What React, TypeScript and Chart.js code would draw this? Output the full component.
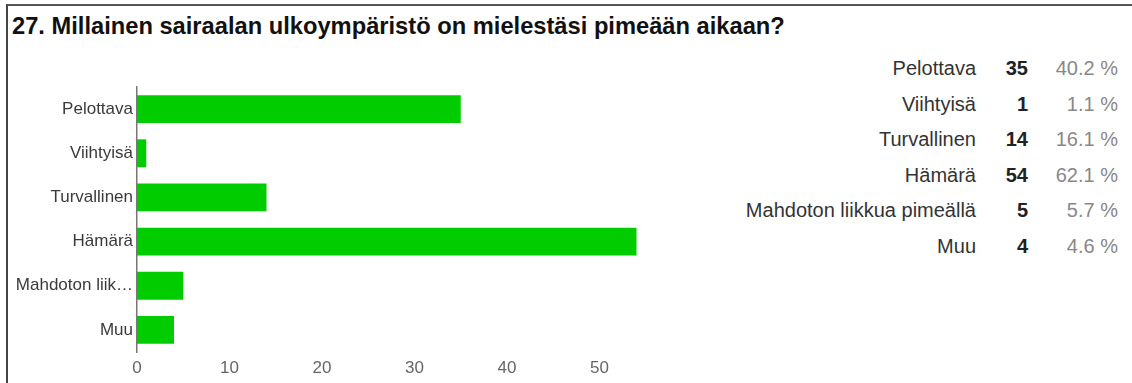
import React, { useEffect, useRef } from "react";
import { Chart, registerables } from "chart.js";

Chart.register(...registerables);

const title = "27. Millainen sairaalan ulkoympäristö on mielestäsi pimeään aikaan?";
const categories = [
  "Pelottava",
  "Viihtyisä",
  "Turvallinen",
  "Hämärä",
  "Mahdoton liikkua pimeällä",
  "Muu",
];
const counts = [35, 1, 14, 54, 5, 4];
const percents = ["40.2 %", "1.1 %", "16.1 %", "62.1 %", "5.7 %", "4.6 %"];
const xTicks = [0, 10, 20, 30, 40, 50];

const FONT = "Arial, 'Liberation Sans', sans-serif";

export default function App() {
  const ref = useRef<HTMLCanvasElement | null>(null);

  useEffect(() => {
    document.body.style.margin = "0";
    const canvas = ref.current;
    if (!canvas) return;
    const chart = new Chart(canvas, {
      type: "bar",
      data: {
        labels: categories,
        datasets: [
          {
            data: counts,
            backgroundColor: "#00cc00",
            borderWidth: 0,
            barPercentage: 1,
            categoryPercentage: 0.63,
          },
        ],
      },
      options: {
        indexAxis: "y",
        animation: false,
        responsive: false,
        maintainAspectRatio: false,
        layout: { padding: { top: 27, right: 28, left: 0, bottom: 0 } },
        plugins: {
          legend: { display: false },
          tooltip: { enabled: false },
          title: { display: false },
        },
        scales: {
          x: {
            min: 0,
            max: 60,
            grid: { display: false, drawTicks: false },
            border: { display: false },
            afterBuildTicks: (axis: any) => {
              axis.ticks = xTicks.map((v) => ({ value: v }));
            },
            afterFit: (axis: any) => {
              axis.height = 31;
            },
            ticks: {
              color: "#666",
              font: { family: FONT, size: 17 },
              padding: 6,
              maxRotation: 0,
            },
          },
          y: {
            grid: { display: false, drawTicks: false },
            border: { display: true, color: "#777", width: 1.5 },
            afterFit: (axis: any) => {
              axis.width = 137;
            },
            ticks: {
              color: "#3a3a3a",
              font: { family: FONT, size: 17 },
              padding: 4,
              callback: function (this: any, value: any) {
                const s = categories[value as number];
                return s.length > 14 ? s.slice(0, 13) + "…" : s;
              },
            },
          },
        },
      },
    });
    return () => chart.destroy();
  }, []);

  return (
    <div
      style={{
        position: "absolute",
        left: 0,
        top: 0,
        width: 1132,
        height: 383,
        background: "#fff",
        overflow: "hidden",
        fontFamily: FONT,
      }}
    >
      <div
        style={{
          position: "absolute",
          left: 6,
          top: 4,
          width: 1125,
          height: 400,
          borderLeft: "2px solid #444",
          borderTop: "2px solid #555",
        }}
      />
      <div
        style={{
          position: "absolute",
          left: 12,
          top: 12,
          fontSize: 23.7,
          fontWeight: "bold",
          color: "#111",
          whiteSpace: "nowrap",
          lineHeight: "28px",
        }}
      >
        {title}
      </div>
      <canvas
        ref={ref}
        width={720}
        height={323}
        style={{ position: "absolute", left: 0, top: 60, width: 720, height: 323 }}
      />
      {categories.map((c, i) => {
        const cy = 68 + i * 35.5;
        return (
          <React.Fragment key={c}>
            <div
              style={{
                position: "absolute",
                right: 1132 - 976,
                top: cy - 12,
                lineHeight: "24px",
                fontSize: 20,
                color: "#333",
                whiteSpace: "nowrap",
              }}
            >
              {c}
            </div>
            <div
              style={{
                position: "absolute",
                right: 1132 - 1028,
                top: cy - 12,
                lineHeight: "24px",
                fontSize: 20,
                fontWeight: "bold",
                color: "#222",
              }}
            >
              {counts[i]}
            </div>
            <div
              style={{
                position: "absolute",
                right: 1132 - 1118,
                top: cy - 12,
                lineHeight: "24px",
                fontSize: 20,
                color: "#888",
              }}
            >
              {percents[i]}
            </div>
          </React.Fragment>
        );
      })}
    </div>
  );
}
